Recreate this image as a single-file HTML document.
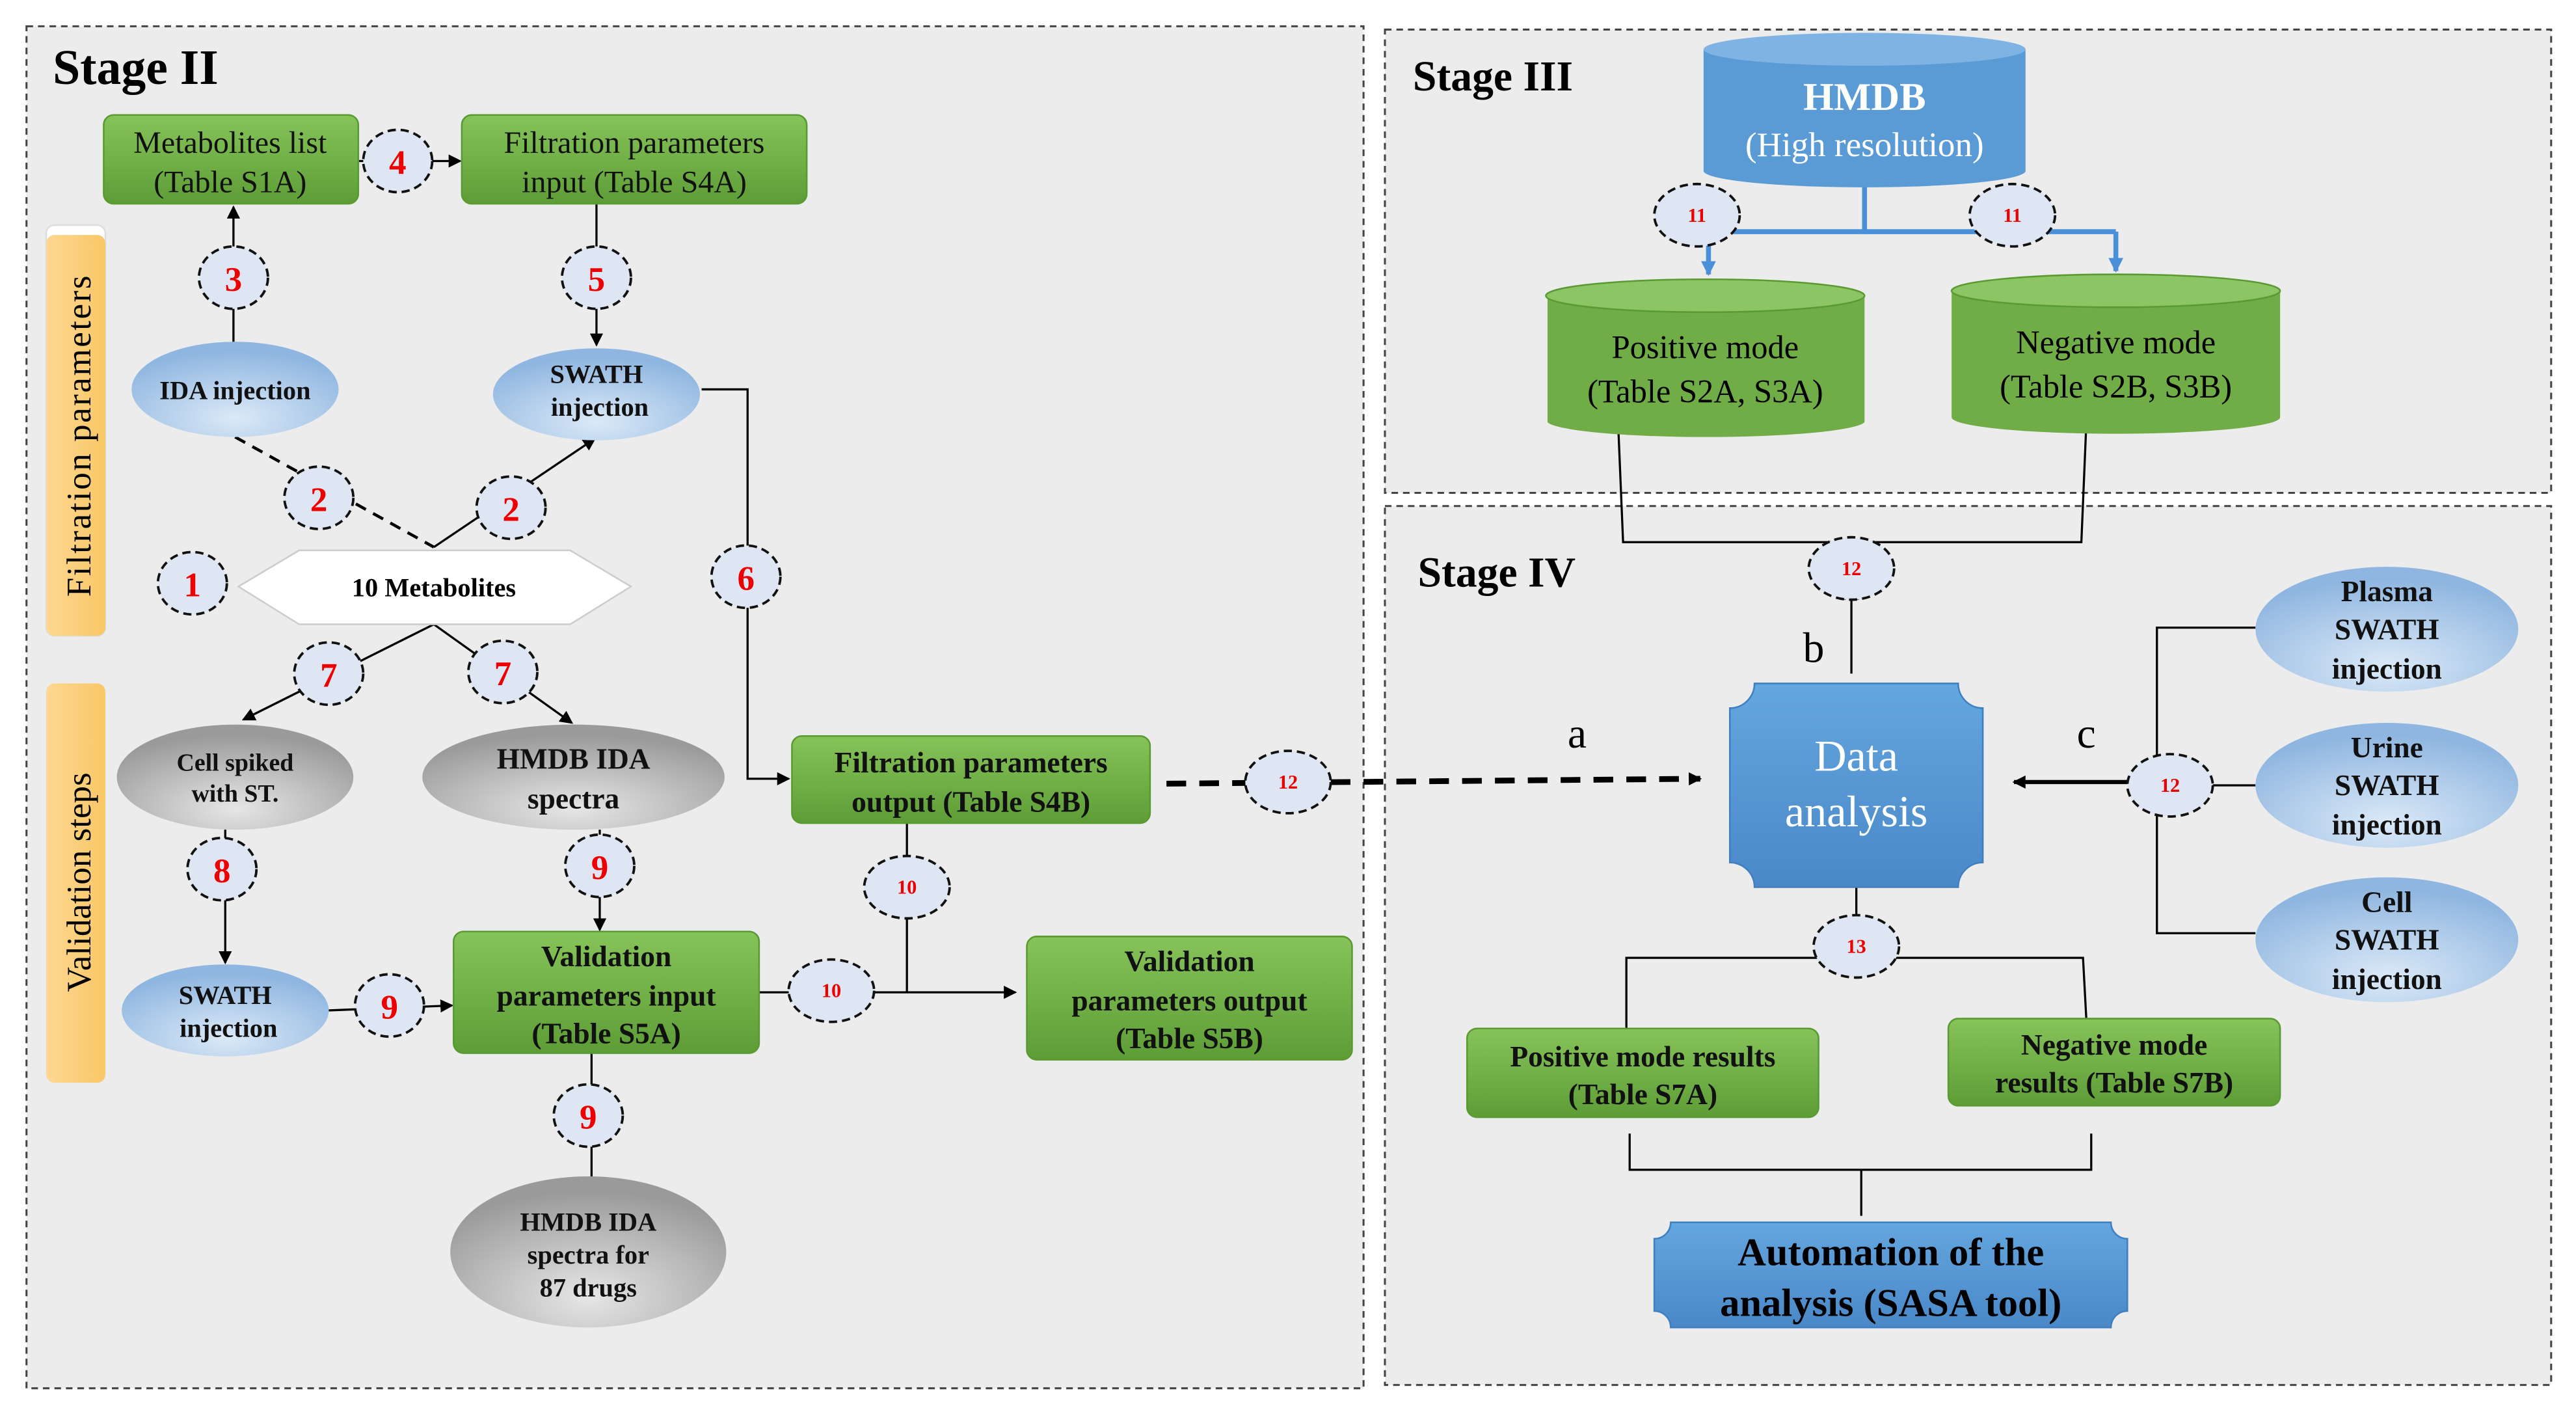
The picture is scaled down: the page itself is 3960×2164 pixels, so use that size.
<!DOCTYPE html>
<html><head><meta charset="utf-8"><style>html,body{margin:0;padding:0;background:#fff}svg{display:block}svg text{font-family:"Liberation Serif",serif}</style></head>
<body>
<svg width="3960" height="2164" viewBox="0 0 1568 857" xmlns="http://www.w3.org/2000/svg" font-family='"Liberation Serif", serif'>
<defs>
<linearGradient id="g" x1="0" y1="0" x2="0" y2="1"><stop offset="0" stop-color="#86c45a"/><stop offset="1" stop-color="#5e9c36"/></linearGradient>
<radialGradient id="bl" cx="0.5" cy="0.8" r="0.7"><stop offset="0" stop-color="#dbe9f7"/><stop offset="1" stop-color="#8fb6e0"/></radialGradient>
<radialGradient id="gr" cx="0.5" cy="0.8" r="0.7"><stop offset="0" stop-color="#e6e6e6"/><stop offset="1" stop-color="#9a9a9a"/></radialGradient>
<linearGradient id="or" x1="0" y1="0" x2="1" y2="0"><stop offset="0" stop-color="#fdd892"/><stop offset="1" stop-color="#f9c766"/></linearGradient>
<linearGradient id="bx" x1="0" y1="0" x2="0" y2="1"><stop offset="0" stop-color="#64a6df"/><stop offset="1" stop-color="#4a88c8"/></linearGradient>
<marker id="ar" markerWidth="8" markerHeight="8" refX="7" refY="4" orient="auto" markerUnits="userSpaceOnUse"><path d="M0,0 L8,4 L0,8z" fill="#000"/></marker>
<marker id="ab" markerWidth="9" markerHeight="9" refX="8" refY="4.5" orient="auto" markerUnits="userSpaceOnUse"><path d="M0,0 L9,4.5 L0,9z" fill="#4a90d9"/></marker>
</defs>
<rect width="1568" height="857" fill="#fff"/>
<g fill="#ececec" stroke="#444" stroke-width="1.2" stroke-dasharray="4,3">
<rect x="16" y="16" width="814" height="829"/>
<rect x="843" y="18" width="710" height="282"/>
<rect x="843" y="308" width="710" height="535"/>
</g>
<g font-weight="bold" font-size="30" fill="#000">
<text x="32" y="51">Stage II</text>
<text x="860" y="55" font-size="26">Stage III</text>
<text x="863" y="357" font-size="26">Stage IV</text>
</g>
<rect x="28" y="137" width="36" height="250" rx="5" fill="#fff" stroke="#ddd"/>
<rect x="28" y="143" width="36" height="244" rx="5" fill="url(#or)"/>
<rect x="28" y="416" width="36" height="243" rx="5" fill="url(#or)"/>
<text transform="translate(55,265) rotate(-90)" text-anchor="middle" font-size="21" letter-spacing="1">Filtration parameters</text>
<text transform="translate(55,537) rotate(-90)" text-anchor="middle" font-size="21">Validation steps</text>
<g stroke="#000" stroke-width="1.3" fill="none">
<line x1="142" y1="208" x2="142" y2="126" marker-end="url(#ar)"/>
<line x1="218" y1="98" x2="280" y2="98" marker-end="url(#ar)"/>
<line x1="363" y1="124" x2="363" y2="210" marker-end="url(#ar)"/>
<line x1="143" y1="266" x2="264" y2="333" stroke-dasharray="7,5" stroke-width="1.8"/>
<line x1="264" y1="333" x2="362" y2="267" marker-end="url(#ar)"/>
<polyline points="427,237 455,237 455,474 480,474" marker-end="url(#ar)"/>
<line x1="264" y1="380" x2="148" y2="438" marker-end="url(#ar)"/>
<line x1="264" y1="380" x2="348" y2="440" marker-end="url(#ar)"/>
<line x1="137" y1="505" x2="137" y2="586" marker-end="url(#ar)"/>
<line x1="365" y1="505" x2="365" y2="566" marker-end="url(#ar)"/>
<line x1="200" y1="615" x2="275" y2="612" marker-end="url(#ar)"/>
<line x1="360" y1="641" x2="360" y2="716"/>
<line x1="462" y1="604" x2="618" y2="604" marker-end="url(#ar)"/>
<line x1="552" y1="501" x2="552" y2="604"/>
<line x1="710" y1="477" x2="1035" y2="474" stroke-dasharray="12,8" stroke-width="3.5" marker-end="url(#ar)"/>
<path d="M985,258 L988,330 L1267,330 L1270,258"/>
<path d="M1127,330 L1127,410"/>
<path d="M1123,365 L1127,330 L1131,365"/>
<polyline points="1373,382 1313,382 1313,568 1373,568"/>
<line x1="1313" y1="478" x2="1373" y2="478"/>
<line x1="1313" y1="476" x2="1226" y2="476" stroke-width="2.5" marker-end="url(#ar)"/>
<line x1="1130" y1="540" x2="1130" y2="576"/>
<path d="M990,626 L990,583 L1268,583 L1270,620"/>
<path d="M992,690 L992,712 L1273,712 L1273,690"/>
<path d="M1133,740 L1133,712"/>
</g>
<g stroke="#4a90d9" stroke-width="3" fill="none">
<line x1="1135" y1="112" x2="1135" y2="141"/>
<line x1="1040" y1="141" x2="1288" y2="141"/>
<line x1="1040" y1="141" x2="1040" y2="167" marker-end="url(#ab)"/>
<line x1="1288" y1="141" x2="1288" y2="165" marker-end="url(#ab)"/>
</g>
<g fill="url(#g)" stroke="#5a9a32">
<rect x="63" y="70" width="155" height="54" rx="6"/>
<rect x="281" y="70" width="210" height="54" rx="6"/>
<rect x="482" y="448" width="218" height="53" rx="6"/>
<rect x="276" y="567" width="186" height="74" rx="6"/>
<rect x="625" y="570" width="198" height="75" rx="6"/>
<rect x="893" y="626" width="214" height="54" rx="6"/>
<rect x="1186" y="620" width="202" height="53" rx="6"/>
</g>
<g font-size="19" text-anchor="middle" fill="#111">
<text x="140" y="93">Metabolites list</text><text x="140" y="117">(Table S1A)</text>
<text x="386" y="93">Filtration parameters</text><text x="386" y="117">input (Table S4A)</text>
</g>
<g font-size="18" font-weight="bold" text-anchor="middle" fill="#111">
<text x="591" y="470">Filtration parameters</text><text x="591" y="494">output (Table S4B)</text>
<text x="369" y="588">Validation</text><text x="369" y="612">parameters input</text><text x="369" y="635">(Table S5A)</text>
<text x="724" y="591">Validation</text><text x="724" y="615">parameters output</text><text x="724" y="638">(Table S5B)</text>
<text x="1000" y="649">Positive mode results</text><text x="1000" y="672">(Table S7A)</text>
<text x="1287" y="642">Negative mode</text><text x="1287" y="665">results (Table S7B)</text>
</g>
<g fill="url(#bl)">
<ellipse cx="143" cy="237" rx="63" ry="29"/>
<ellipse cx="363" cy="240" rx="63" ry="28"/>
<ellipse cx="137" cy="615" rx="63" ry="28"/>
<ellipse cx="1453" cy="383" rx="80" ry="38"/>
<ellipse cx="1453" cy="478" rx="80" ry="38"/>
<ellipse cx="1453" cy="572" rx="80" ry="38"/>
</g>
<g fill="url(#gr)">
<ellipse cx="143" cy="473" rx="72" ry="32"/>
<ellipse cx="349" cy="473" rx="92" ry="32"/>
<ellipse cx="358" cy="762" rx="84" ry="46"/>
</g>
<g font-size="16" font-weight="bold" text-anchor="middle" fill="#111">
<text x="143" y="243">IDA injection</text>
<text x="363" y="233">SWATH</text><text x="365" y="253">injection</text>
<text x="137" y="611">SWATH</text><text x="139" y="631">injection</text>
<text x="143" y="469" font-size="15">Cell spiked</text><text x="143" y="488" font-size="15">with ST.</text>
<text x="349" y="468" font-size="18">HMDB IDA</text><text x="349" y="492" font-size="18">spectra</text>
<text x="358" y="749">HMDB IDA</text><text x="358" y="769">spectra for</text><text x="358" y="789">87 drugs</text>
<g font-size="18"><text x="1453" y="366">Plasma</text><text x="1453" y="389">SWATH</text><text x="1453" y="413">injection</text>
<text x="1453" y="461">Urine</text><text x="1453" y="484">SWATH</text><text x="1453" y="508">injection</text>
<text x="1453" y="555">Cell</text><text x="1453" y="578">SWATH</text><text x="1453" y="602">injection</text></g>
</g>
<polygon points="145,357 182,335 347,335 384,357 347,380 182,380" fill="#fff" stroke="#ccc"/>
<text x="264" y="363" font-size="16" font-weight="bold" text-anchor="middle">10 Metabolites</text>
<g>
<path d="M1037,30 L1037,104 A98,10 0 0 0 1233,104 L1233,30z" fill="#5b9bd5"/>
<ellipse cx="1135" cy="30" rx="98" ry="10" fill="#7fb3e3"/>
<path d="M942,180 L942,257 A97,10 0 0 0 1135,257 L1135,180z" fill="#70ad47"/>
<ellipse cx="1038" cy="180" rx="97" ry="10" fill="#8cc563" stroke="#5a9a32"/>
<path d="M1188,177 L1188,254 A100,10 0 0 0 1388,254 L1388,177z" fill="#70ad47"/>
<ellipse cx="1288" cy="177" rx="100" ry="10" fill="#8cc563" stroke="#5a9a32"/>
</g>
<g text-anchor="middle">
<text x="1135" y="67" font-size="24" font-weight="bold" fill="#fff">HMDB</text>
<text x="1135" y="95" font-size="21" fill="#fff">(High resolution)</text>
<text x="1038" y="218" font-size="20">Positive mode</text><text x="1038" y="245" font-size="20">(Table S2A, S3A)</text>
<text x="1288" y="215" font-size="20">Negative mode</text><text x="1288" y="242" font-size="20">(Table S2B, S3B)</text>
</g>
<path d="M1068,416 L1192,416 A15,15 0 0 0 1207,431 L1207,525 A15,15 0 0 0 1192,540 L1068,540 A15,15 0 0 0 1053,525 L1053,431 A15,15 0 0 0 1068,416z" fill="url(#bx)" stroke="#3f7fbf"/>
<text x="1130" y="469" font-size="27" fill="#fff" text-anchor="middle">Data</text>
<text x="1130" y="503" font-size="27" fill="#fff" text-anchor="middle">analysis</text>
<path d="M1017,744 L1285,744 A10,10 0 0 0 1295,754 L1295,798 A10,10 0 0 0 1285,808 L1017,808 A10,10 0 0 0 1007,798 L1007,754 A10,10 0 0 0 1017,744z" fill="url(#bx)" stroke="#3f7fbf"/>
<text x="1151" y="770" font-size="24" font-weight="bold" text-anchor="middle">Automation of the</text>
<text x="1151" y="801" font-size="24" font-weight="bold" text-anchor="middle">analysis (SASA tool)</text>
<g font-size="26" text-anchor="middle"><text x="960" y="455">a</text><text x="1104" y="403">b</text><text x="1270" y="455">c</text></g>
<g fill="#dde6f2" stroke="#111" stroke-width="1.5" stroke-dasharray="5,3">
<ellipse cx="117" cy="355" rx="21" ry="19"/><ellipse cx="194" cy="303" rx="21" ry="19"/><ellipse cx="311" cy="309" rx="21" ry="19"/>
<ellipse cx="142" cy="169" rx="21" ry="19"/><ellipse cx="242" cy="98" rx="21" ry="19"/><ellipse cx="363" cy="169" rx="21" ry="19"/>
<ellipse cx="454" cy="351" rx="21" ry="19"/><ellipse cx="200" cy="410" rx="21" ry="19"/><ellipse cx="306" cy="409" rx="21" ry="19"/>
<ellipse cx="135" cy="529" rx="21" ry="19"/><ellipse cx="365" cy="527" rx="21" ry="19"/><ellipse cx="237" cy="612" rx="21" ry="19"/>
<ellipse cx="358" cy="679" rx="21" ry="19"/><ellipse cx="552" cy="540" rx="26" ry="19"/><ellipse cx="506" cy="603" rx="26" ry="19"/>
<ellipse cx="784" cy="476" rx="26" ry="19"/><ellipse cx="1033" cy="131" rx="26" ry="19"/><ellipse cx="1225" cy="131" rx="26" ry="19"/>
<ellipse cx="1127" cy="346" rx="26" ry="19"/><ellipse cx="1321" cy="478" rx="26" ry="19"/><ellipse cx="1130" cy="576" rx="26" ry="19"/>
</g>
<g fill="#e00" font-weight="bold" text-anchor="middle" font-size="21">
<text x="117" y="363">1</text><text x="194" y="311">2</text><text x="311" y="317">2</text><text x="142" y="177">3</text><text x="242" y="106">4</text>
<text x="363" y="177">5</text><text x="454" y="359">6</text><text x="200" y="418">7</text><text x="306" y="417">7</text><text x="135" y="537">8</text>
<text x="365" y="535">9</text><text x="237" y="620">9</text><text x="358" y="687">9</text>
<g font-size="12"><text x="552" y="544">10</text><text x="506" y="607">10</text><text x="784" y="480">12</text><text x="1033" y="135">11</text><text x="1225" y="135">11</text><text x="1127" y="350">12</text><text x="1321" y="482">12</text><text x="1130" y="580">13</text></g>
</g>
</svg>
</body></html>
